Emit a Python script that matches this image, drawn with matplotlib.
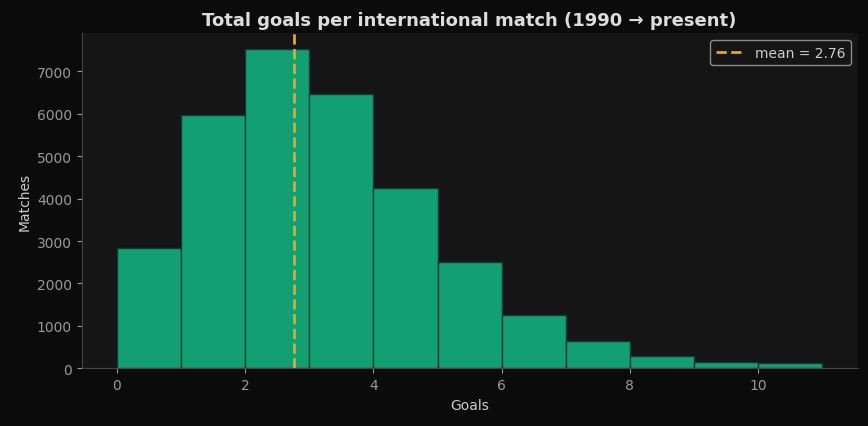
import matplotlib
matplotlib.use("Agg")
import matplotlib.pyplot as plt

goals = [0, 1, 2, 3, 4, 5, 6, 7, 8, 9, 10]
matches = [2830, 5960, 7520, 6460, 4240, 2500, 1250, 640, 290, 140, 130]
mean_goals = 2.76

fig = plt.figure(figsize=(8.68, 4.27), dpi=100, facecolor="#0b0b0b")
ax = fig.add_axes([0.094, 0.135, 0.894, 0.785])
ax.set_facecolor("#151515")
ax.bar(goals, matches, width=1.0, align="edge", color="#12a072", edgecolor="#0d3b2c", linewidth=1)
ax.axvline(mean_goals, color="#f0a21a", linestyle="--", linewidth=2, label=f"mean = {mean_goals:.2f}")
ax.set_xlim(-0.55, 11.55)
ax.set_ylim(0, 7900)
ax.set_title("Total goals per international match (1990 → present)", color="#dddddd", fontsize=13, fontweight="bold")
ax.set_xlabel("Goals", color="#cccccc", fontsize=10)
ax.set_ylabel("Matches", color="#cccccc", fontsize=10)
ax.tick_params(colors="#999999", labelsize=10)
for s in ["top", "right"]:
    ax.spines[s].set_visible(False)
for s in ["left", "bottom"]:
    ax.spines[s].set_color("#444444")
leg = ax.legend(loc="upper right", facecolor="#151515", edgecolor="#aaaaaa", labelcolor="#cccccc", fontsize=10)
fig.savefig("out.png", facecolor=fig.get_facecolor())
